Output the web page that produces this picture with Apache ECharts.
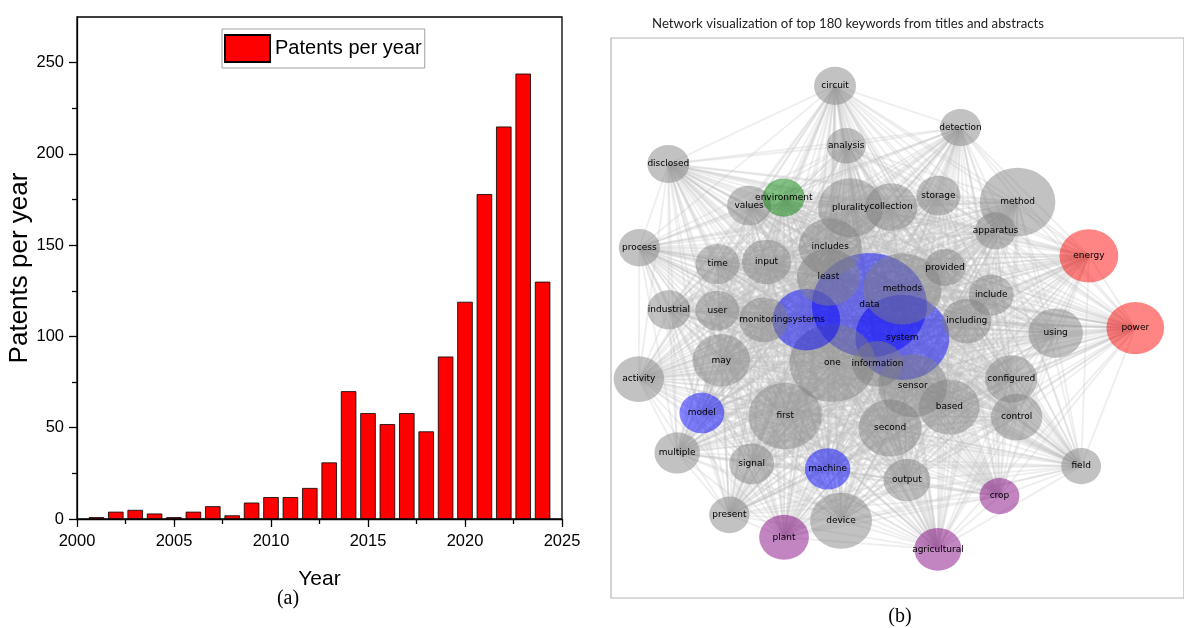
<!DOCTYPE html>
<html>
<head>
<meta charset="utf-8">
<script src="https://cdn.jsdelivr.net/npm/echarts@6/dist/echarts.min.js"></script>
<style>
  html, body { margin: 0; padding: 0; background: #fff; }
  #chart { width: 1184px; height: 628px; }
</style>
</head>
<body>
<div id="chart"></div>
<script>
// ---- (a) patents granted per year ----
const years = [2001, 2002, 2003, 2004, 2005, 2006, 2007, 2008, 2009, 2010, 2011, 2012,
               2013, 2014, 2015, 2016, 2017, 2018, 2019, 2020, 2021, 2022, 2023, 2024];
const patents = [1, 4, 5, 3, 1, 4, 7, 2, 9, 12, 12, 17,
                 31, 70, 58, 52, 58, 48, 89, 119, 178, 215, 244, 130];
const countMajorTicks = [0, 50, 100, 150, 200, 250];
const countMinorTicks = [25, 75, 125, 175, 225];

// ---- (b) keyword co-occurrence network (ranked by frequency) ----
const keywords = ['data', 'system', 'one', 'methods', 'method', 'first', 'sensor', 'systems',
  'plurality', 'includes', 'least', 'second', 'device', 'based', 'energy', 'power', 'may',
  'using', 'collection', 'configured', 'control', 'information', 'activity', 'plant', 'input',
  'monitoring', 'including', 'agricultural', 'output', 'multiple', 'machine', 'include', 'model',
  'signal', 'values', 'storage', 'time', 'user', 'industrial', 'circuit', 'disclosed',
  'environment', 'process', 'provided', 'detection', 'apparatus', 'present', 'field', 'crop',
  'analysis'];
// layout coordinates in [-1, 1]
const keywordX = [-0.098, 0.017, -0.227, 0.017, 0.419, -0.392, 0.053, -0.318,
  -0.164, -0.235, -0.241, -0.026, -0.197, 0.181, 0.668, 0.830, -0.615,
  0.552, -0.022, 0.397, 0.416, -0.070, -0.903, -0.396, -0.457,
  -0.467, 0.242, 0.141, 0.033, -0.769, -0.244, 0.327, -0.683,
  -0.509, -0.518, 0.143, -0.628, -0.629, -0.798, -0.218, -0.800,
  -0.397, -0.901, 0.166, 0.220, 0.342, -0.587, 0.641, 0.356,
  -0.179];
const keywordY = [0.046, -0.069, -0.161, 0.104, 0.414, -0.350, -0.242, -0.006,
  0.394, 0.254, 0.146, -0.393, -0.724, -0.318, 0.222, -0.036, -0.151,
  -0.054, 0.396, -0.218, -0.354, -0.164, -0.218, -0.783, 0.200,
  -0.007, -0.011, -0.826, -0.579, -0.482, -0.539, 0.082, -0.339,
  -0.521, 0.402, 0.437, 0.193, 0.026, 0.029, 0.829, 0.550,
  0.430, 0.251, 0.180, 0.680, 0.311, -0.703, -0.529, -0.636,
  0.615];
const keywordFreq = [3000, 2000, 1680, 1400, 1300, 1225, 1090, 1040,
  960, 900, 900, 900, 870, 840, 785, 755, 755,
  675, 625, 625, 600, 575, 575, 560, 550,
  550, 550, 505, 500, 470, 470, 460, 455,
  455, 440, 440, 440, 440, 420, 400, 400,
  400, 385, 385, 380, 380, 370, 360, 360,
  350];
const keywordGroup = ['core', 'core', 'general', 'general', 'general', 'general', 'general', 'core',
  'general', 'general', 'general', 'general', 'general', 'general', 'energy', 'energy', 'general',
  'general', 'general', 'general', 'general', 'general', 'general', 'agri', 'general',
  'general', 'general', 'agri', 'general', 'general', 'core', 'general', 'core',
  'general', 'general', 'general', 'general', 'general', 'general', 'general', 'general',
  'env', 'general', 'general', 'general', 'general', 'general', 'general', 'agri',
  'general'];

const groupColors = {
  general: 'rgba(128,128,128,0.6)',
  core: 'rgba(0,0,255,0.6)',
  energy: 'rgba(255,0,0,0.6)',
  env: 'rgba(0,128,0,0.6)',
  agri: 'rgba(128,0,128,0.6)'
};

// every pair of keywords co-occurs somewhere in the corpus
const links = [];
for (let i = 0; i < keywords.length; i++) {
  for (let j = i + 1; j < keywords.length; j++) {
    links.push({ coords: [[keywordX[i], keywordY[i]], [keywordX[j], keywordY[j]]] });
  }
}

const sans = "'Liberation Sans',Arial,sans-serif";
const black = '#000';

const nodeData = keywords.map((k, i) => {
  const d = 2 * Math.sqrt(keywordFreq[i]);
  return {
    name: k,
    value: [keywordX[i], keywordY[i]],
    symbolSize: [d * 1.05, d / 1.05],
    itemStyle: { color: groupColors[keywordGroup[i]] }
  };
});

const chart = echarts.init(document.getElementById('chart'), null, { renderer: 'canvas' });

chart.setOption({
  animation: false,
  backgroundColor: '#fff',
  grid: [
    { left: 77, top: 17, width: 485, height: 502, show: true,
      borderColor: black, borderWidth: 1.3, backgroundColor: 'rgba(0,0,0,0)' },
    { left: 611, top: 38, width: 600, height: 560, show: true,
      borderColor: '#b4b4b4', borderWidth: 1.2, backgroundColor: 'rgba(0,0,0,0)' }
  ],
  legend: {
    data: ['Patents per year'],
    left: 222, top: 29,
    padding: [5, 3, 5, 2],
    itemWidth: 45, itemHeight: 27,
    icon: 'rect',
    backgroundColor: '#fff',
    borderColor: '#a0a0a0', borderWidth: 1,
    textStyle: { fontSize: 20, fontFamily: sans, color: black },
    selectedMode: false
  },
  xAxis: [
    {
      gridIndex: 0, type: 'value', min: 2000, max: 2025, interval: 5,
      axisLine: { lineStyle: { color: black, width: 1.3 } },
      axisTick: { length: 8, lineStyle: { color: black, width: 1.3 } },
      minorTick: { show: true, splitNumber: 2, length: 5, lineStyle: { color: black, width: 1.3 } },
      splitLine: { show: false },
      axisLabel: { color: black, fontSize: 16.5, fontFamily: sans, margin: 14,
                   formatter: v => String(v) },
      name: 'Year', nameLocation: 'middle', nameGap: 50,
      nameTextStyle: { color: black, fontSize: 21, fontFamily: sans }
    },
    { gridIndex: 1, type: 'value', min: -1, max: 1, show: false }
  ],
  yAxis: [
    {
      gridIndex: 0, type: 'value', min: 0, max: 275, interval: 50,
      axisLine: { show: true, lineStyle: { color: black, width: 1.3 } },
      axisTick: { show: true, length: 8, lineStyle: { color: black, width: 1.3 },
                  customValues: countMajorTicks },
      splitLine: { show: false },
      axisLabel: { color: black, fontSize: 16.5, fontFamily: sans, margin: 13,
                   customValues: countMajorTicks },
      name: 'Patents per year', nameLocation: 'middle', nameGap: 31,
      nameTextStyle: { color: black, fontSize: 26, fontFamily: sans }
    },
    {
      gridIndex: 0, type: 'value', min: 0, max: 275, interval: 25, position: 'left',
      axisLine: { show: false },
      axisTick: { show: true, length: 5, lineStyle: { color: black, width: 1.3 },
                  customValues: countMinorTicks },
      axisLabel: { show: false },
      splitLine: { show: false }
    },
    { gridIndex: 1, type: 'value', min: -1, max: 1, show: false }
  ],
  series: [
    {
      name: 'Patents per year',
      type: 'bar',
      xAxisIndex: 0, yAxisIndex: 0,
      barWidth: 15.5,
      data: years.map((y, i) => [y, patents[i]]),
      itemStyle: { color: '#ff0000', borderColor: '#000', borderWidth: 0.8 },
      silent: true
    },
    {
      type: 'lines',
      coordinateSystem: 'cartesian2d',
      xAxisIndex: 1, yAxisIndex: 2,
      silent: true,
      z: 2,
      data: links,
      lineStyle: { color: '#bcbcbc', opacity: 0.26, width: 1.8, curveness: 0 }
    },
    {
      type: 'scatter',
      xAxisIndex: 1, yAxisIndex: 2,
      silent: true,
      z: 3,
      symbol: 'circle',
      data: nodeData,
      label: { show: true, position: 'inside', formatter: '{b}',
               fontFamily: "'DejaVu Sans',sans-serif", fontSize: 9, color: '#000',
               opacity: 1, textBorderWidth: 0 },
      labelLayout: { hideOverlap: false }
    }
  ],
  graphic: [
    { type: 'text', x: 848, y: 24, silent: true,
      style: { text: 'Network visualization of top 180 keywords from titles and abstracts',
               font: "13.2px Lato, 'Open Sans', sans-serif", fill: '#222',
               align: 'center', verticalAlign: 'middle' } },
    { type: 'text', x: 288, y: 599, silent: true,
      style: { text: '(a)', font: "20px 'Liberation Serif', 'DejaVu Serif', serif", fill: '#000',
               align: 'center', verticalAlign: 'middle' } },
    { type: 'text', x: 900, y: 617, silent: true,
      style: { text: '(b)', font: "20px 'Liberation Serif', 'DejaVu Serif', serif", fill: '#000',
               align: 'center', verticalAlign: 'middle' } }
  ]
});
</script>
</body>
</html>
